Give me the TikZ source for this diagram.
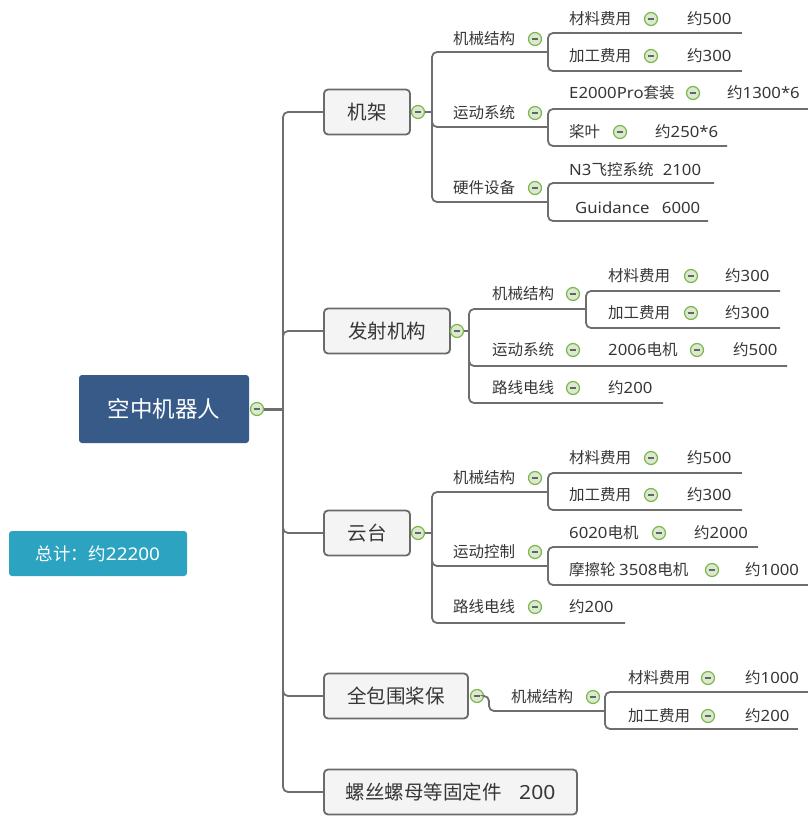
\documentclass[tikz,border=0pt]{standalone}
\usepackage{fontspec}
\setmainfont{Noto Sans CJK SC}
\newfontfamily\latf{Noto Sans}[FakeStretch=1.08]
\newcommand{\lat}[1]{{\latf #1}}
\definecolor{lineC}{HTML}{6E6E6E}
\definecolor{boxF}{HTML}{F4F4F4}
\definecolor{boxB}{HTML}{6A6A6A}
\definecolor{txtC}{HTML}{363636}
\definecolor{rootF}{HTML}{375A88}
\definecolor{totF}{HTML}{2CA3C0}
\definecolor{togG}{HTML}{7AB84A}
\definecolor{togF}{HTML}{DCE8D2}
\definecolor{togM}{HTML}{5E6B55}
\tikzset{
 ln/.style={draw=lineC, line width=1.8pt, rounded corners=5pt},
 tog/.style={circle, draw=togG, line width=1.2pt, fill=togF, minimum size=13pt, inner sep=0pt,
   path picture={\draw[line width=1.2pt,togM] ([xshift=-3.4pt]path picture bounding box.center) -- ([xshift=3.4pt]path picture bounding box.center);}},
 t2/.style={anchor=west, inner sep=0pt, font=\fontsize{15.5}{18}\selectfont, text=txtC},
 l1/.style={draw=boxB, line width=1.8pt, fill=boxF, rounded corners=4pt, minimum height=45pt, inner sep=0pt, font=\fontsize{19.5}{22}\selectfont, text=txtC},
}
\begin{document}
\begin{tikzpicture}[x=1pt,y=-1pt]
\useasboundingbox (0,0) rectangle (808,817);
% root
\node[fill=rootF, rounded corners=3pt, minimum width=170pt, minimum height=68pt, inner sep=0pt, text=white, font=\fontsize{22.5}{26}\selectfont] (root) at (164,409) {空中机器人};
\node[fill=totF, rounded corners=3pt, minimum width=178pt, minimum height=45pt, inner sep=0pt, text=white, font=\fontsize{17.5}{20}\selectfont] (total) at (98,553.5) {总计：约\lat{22200}};
\coordinate (tr) at (283,409);
% level-1 boxes
\node[l1, minimum width=86pt] (jj) at (367,112) {机架};
\node[l1, minimum width=126pt] (fs) at (387,331) {发射机构};
\node[l1, minimum width=86pt] (yt) at (367,533) {云台};
\node[l1, minimum width=144pt] (qb) at (396,696) {全包围桨保};
\node[l1, minimum width=253pt] (ls) at (450.5,792) {螺丝螺母等固定件\hspace{0.9em}\lat{200}};
\draw[ln] (tr) |- (jj.west);
\draw[ln] (tr) |- (fs.west);
\draw[ln] (tr) |- (yt.west);
\draw[ln] (tr) |- (qb.west);
\draw[ln] (tr) |- (ls.west);
\node[tog] (rootc) at (257,409) {};
\draw[lineC, line width=3pt] (rootc.east) -- (tr);

% ===== 机架 =====
\node[tog] (jjc) at (418,112) {};
\coordinate (jjJ) at (432,112);
\draw[ln] (jjc.east) -- (jjJ);
\node[t2] (jjA) at (453,39) {机械结构}; \node[tog] (jjAc) at (535,39) {};
\coordinate (jjAe) at (548,52); \draw[ln] (jjJ) |- (jjAe);
\node[t2] (jjA1) at (569,19) {材料费用}; \node[tog] (jjA1c) at (651,19) {}; \node[t2] (jjA1v) at (687,19) {约\lat{500}};
\coordinate (jjA1e) at (742,33); \draw[ln] (jjAe) |- (jjA1e);
\node[t2] (jjA2) at (569,56) {加工费用}; \node[tog] (jjA2c) at (651,56) {}; \node[t2] (jjA2v) at (687,56) {约\lat{300}};
\coordinate (jjA2e) at (742,71); \draw[ln] (jjAe) |- (jjA2e);
\node[t2] (jjB) at (453,113) {运动系统}; \node[tog] (jjBc) at (535,113) {};
\coordinate (jjBe) at (548,127); \draw[ln] (jjJ) |- (jjBe);
\node[t2] (jjB1) at (569,93) {\lat{E2000Pro}套装}; \node[tog] (jjB1c) at (693,93) {}; \node[t2] (jjB1v) at (727,93) {约\lat{1300*6}};
\coordinate (jjB1e) at (808,109); \draw[ln] (jjBe) |- (jjB1e);
\node[t2] (jjB2) at (569,132) {桨叶}; \node[tog] (jjB2c) at (620,132) {}; \node[t2] (jjB2v) at (655,132) {约\lat{250*6}};
\coordinate (jjB2e) at (727,146); \draw[ln] (jjBe) |- (jjB2e);
\node[t2] (jjC) at (453,188) {硬件设备}; \node[tog] (jjCc) at (535,188) {};
\coordinate (jjCe) at (548,202); \draw[ln] (jjJ) |- (jjCe);
\node[t2] (jjC1) at (569,170) {\lat{N3}飞控系统\hspace{0.6em}\lat{2100}};
\coordinate (jjC1e) at (714,183); \draw[ln] (jjCe) |- (jjC1e);
\node[t2] (jjC2) at (575,208) {\lat{Guidance}\hspace{0.8em}\lat{6000}};
\coordinate (jjC2e) at (708,221); \draw[ln] (jjCe) |- (jjC2e);

% ===== 发射机构 =====
\node[tog] (fsc) at (457,331) {};
\coordinate (fsJ) at (469,331);
\draw[ln] (fsc.east) -- (fsJ);
\node[t2] (fsA) at (492,294) {机械结构}; \node[tog] (fsAc) at (573,294) {};
\coordinate (fsAe) at (586,309); \draw[ln] (fsJ) |- (fsAe);
\node[t2] (fsA1) at (608,276) {材料费用}; \node[tog] (fsA1c) at (691,276) {}; \node[t2] (fsA1v) at (725,276) {约\lat{300}};
\coordinate (fsA1e) at (780,291); \draw[ln] (fsAe) |- (fsA1e);
\node[t2] (fsA2) at (608,313) {加工费用}; \node[tog] (fsA2c) at (691,313) {}; \node[t2] (fsA2v) at (725,313) {约\lat{300}};
\coordinate (fsA2e) at (780,328); \draw[ln] (fsAe) |- (fsA2e);
\node[t2] (fsB) at (492,350) {运动系统}; \node[tog] (fsBc) at (573,350) {};
\node[t2] (fsB1) at (608,350) {\lat{2006}电机}; \node[tog] (fsB1c) at (697,350) {}; \node[t2] (fsB1v) at (733,350) {约\lat{500}};
\coordinate (fsBe) at (787,366); \draw[ln] (fsJ) |- (fsBe);
\node[t2] (fsC) at (492,388) {路线电线}; \node[tog] (fsCc) at (573,388) {};
\node[t2] (fsC1) at (608,388) {约\lat{200}};
\coordinate (fsCe) at (663,403); \draw[ln] (fsJ) |- (fsCe);

% ===== 云台 =====
\node[tog] (ytc) at (418,533) {};
\coordinate (ytJ) at (432,533);
\draw[ln] (ytc.east) -- (ytJ);
\node[t2] (ytA) at (453,478) {机械结构}; \node[tog] (ytAc) at (535,478) {};
\coordinate (ytAe) at (548,492); \draw[ln] (ytJ) |- (ytAe);
\node[t2] (ytA1) at (569,458) {材料费用}; \node[tog] (ytA1c) at (651,458) {}; \node[t2] (ytA1v) at (687,458) {约\lat{500}};
\coordinate (ytA1e) at (742,473); \draw[ln] (ytAe) |- (ytA1e);
\node[t2] (ytA2) at (569,495) {加工费用}; \node[tog] (ytA2c) at (651,495) {}; \node[t2] (ytA2v) at (687,495) {约\lat{300}};
\coordinate (ytA2e) at (742,510); \draw[ln] (ytAe) |- (ytA2e);
\node[t2] (ytB) at (453,552) {运动控制}; \node[tog] (ytBc) at (535,552) {};
\coordinate (ytBe) at (548,566); \draw[ln] (ytJ) |- (ytBe);
\node[t2] (ytB1) at (569,533) {\lat{6020}电机}; \node[tog] (ytB1c) at (659,533) {}; \node[t2] (ytB1v) at (694,533) {约\lat{2000}};
\coordinate (ytB1e) at (758,547); \draw[ln] (ytBe) |- (ytB1e);
\node[t2] (ytB2) at (569,570) {摩擦轮 \lat{3508}电机}; \node[tog] (ytB2c) at (712,570) {}; \node[t2] (ytB2v) at (745,570) {约\lat{1000}};
\coordinate (ytB2e) at (808,585); \draw[ln] (ytBe) |- (ytB2e);
\node[t2] (ytC) at (453,607) {路线电线}; \node[tog] (ytCc) at (535,607) {};
\node[t2] (ytC1) at (569,607) {约\lat{200}};
\coordinate (ytCe) at (625,623); \draw[ln] (ytJ) |- (ytCe);

% ===== 全包围桨保 =====
\node[tog] (qbc) at (477,696) {};
\coordinate (qbK) at (489,711);
\coordinate (qbAe) at (605,711);
\draw[ln] (qbc.east) -| (qbK) -- (qbAe);
\node[t2] (qbA) at (511,697) {机械结构}; \node[tog] (qbAc) at (593,697) {};
\node[t2] (qbA1) at (628,678) {材料费用}; \node[tog] (qbA1c) at (708,678) {}; \node[t2] (qbA1v) at (745,678) {约\lat{1000}};
\coordinate (qbA1e) at (808,692); \draw[ln] (qbAe) |- (qbA1e);
\node[t2] (qbA2) at (628,716) {加工费用}; \node[tog] (qbA2c) at (708,716) {}; \node[t2] (qbA2v) at (745,716) {约\lat{200}};
\coordinate (qbA2e) at (798,729); \draw[ln] (qbAe) |- (qbA2e);
\end{tikzpicture}
\end{document}
